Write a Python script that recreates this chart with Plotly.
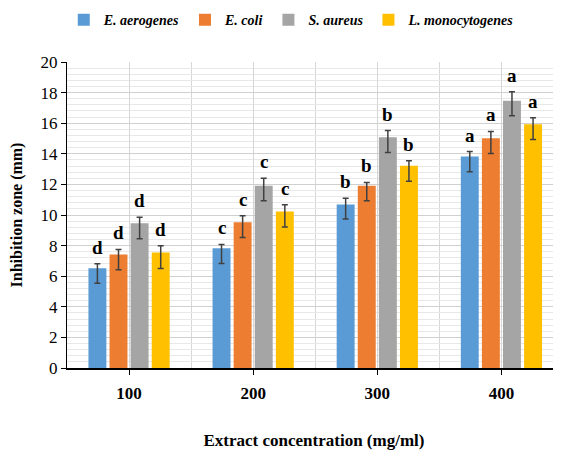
import plotly.graph_objects as go

categories = ["100", "200", "300", "400"]
series_names = ["E. aerogenes", "E. coli", "S. aureus", "L. monocytogenes"]
colors = ["#5B9BD5", "#ED7D31", "#A5A5A5", "#FFC000"]

e_aerogenes = [6.52, 7.83, 10.69, 13.82]
e_coli = [7.42, 9.53, 11.91, 15.02]
s_aureus = [9.46, 11.91, 15.08, 17.46]
l_monocytogenes = [7.55, 10.23, 13.22, 15.93]

err_plus_aer = [0.30, 0.25, 0.40, 0.33]
err_plus_coli = [0.33, 0.42, 0.22, 0.44]
err_plus_aur = [0.40, 0.50, 0.44, 0.60]
err_plus_mono = [0.44, 0.44, 0.33, 0.42]

err_minus_aer = [0.98, 1.00, 0.95, 1.00]
err_minus_coli = [1.00, 1.00, 0.98, 1.00]
err_minus_aur = [1.02, 0.98, 1.00, 0.97]
err_minus_mono = [1.05, 1.02, 1.02, 1.00]

letters_aer = ["d", "c", "b", "a"]
letters_coli = ["d", "c", "b", "a"]
letters_aur = ["d", "c", "b", "a"]
letters_mono = ["d", "c", "b", "a"]

values = [e_aerogenes, e_coli, s_aureus, l_monocytogenes]
plus = [err_plus_aer, err_plus_coli, err_plus_aur, err_plus_mono]
minus = [err_minus_aer, err_minus_coli, err_minus_aur, err_minus_mono]
letters = [letters_aer, letters_coli, letters_aur, letters_mono]

SERIF = "Liberation Serif, Times New Roman, Times, serif"
xpos = list(range(len(categories)))
bargap = 0.32
bargroupgap = 0.15
n = len(series_names)
slot = (1 - bargap) / n

fig = go.Figure()
annotations = []
for i in range(n):
    fig.add_trace(go.Bar(
        x=xpos, y=values[i], name=f"<b><i>{series_names[i]}</i></b>",
        marker=dict(color=colors[i], line=dict(width=0)),
        error_y=dict(type="data", symmetric=False, array=plus[i], arrayminus=minus[i],
                     color="#404040", thickness=1.5, width=3),
    ))
    off = -(1 - bargap) / 2 + slot * (i + 0.5)
    for j, xv in enumerate(xpos):
        annotations.append(dict(
            x=xv + off, y=values[i][j] + plus[i][j], xref="x", yref="y",
            text=f"<b>{letters[i][j]}</b>", showarrow=False, yanchor="bottom",
            yshift=4, font=dict(family=SERIF, size=19, color="#000000"),
        ))

fig.update_layout(
    width=561, height=451,
    margin=dict(l=59, r=8, t=54, b=91, autoexpand=False),
    paper_bgcolor="white", plot_bgcolor="white",
    barmode="group", bargap=bargap, bargroupgap=bargroupgap,
    font=dict(family=SERIF, color="#000000"),
    annotations=annotations,
    legend=dict(orientation="h", x=0.455, xanchor="center", y=1.137, yanchor="middle",
                font=dict(family=SERIF, size=14, color="#000000"), itemwidth=30,
                traceorder="normal"),
    showlegend=True,
)
fig.update_xaxes(
    range=[-0.5, 3.48], tickvals=xpos, ticktext=[f"<b>{c}</b>" for c in categories],
    tickfont=dict(family=SERIF, size=17), ticks="outside", ticklen=5, tickcolor="#000000",
    ticklabelstandoff=4,
    showline=True, linecolor="#000000", linewidth=1.5,
    showgrid=True, gridcolor="#D6D6D6", gridwidth=1,
    minor=dict(dtick=0.5, tick0=-0.5, showgrid=True, gridcolor="#D6D6D6", ticks=""),
    title=dict(text="<b>Extract concentration (mg/ml)</b>", font=dict(family=SERIF, size=17), standoff=32),
    zeroline=False,
)
fig.update_yaxes(
    range=[0, 20], dtick=2, tickfont=dict(family=SERIF, size=17),
    ticks="outside", ticklen=5, tickcolor="#000000",
    showline=True, linecolor="#000000", linewidth=1,
    showgrid=True, gridcolor="#D0D0D0", gridwidth=1,
    minor=dict(dtick=0.4, showgrid=True, gridcolor="#E8E8E8", ticks=""),
    title=dict(text="<b>Inhibition zone (mm)</b>", font=dict(family=SERIF, size=16), standoff=14),
    zeroline=False,
)

fig.write_html("out.html")
